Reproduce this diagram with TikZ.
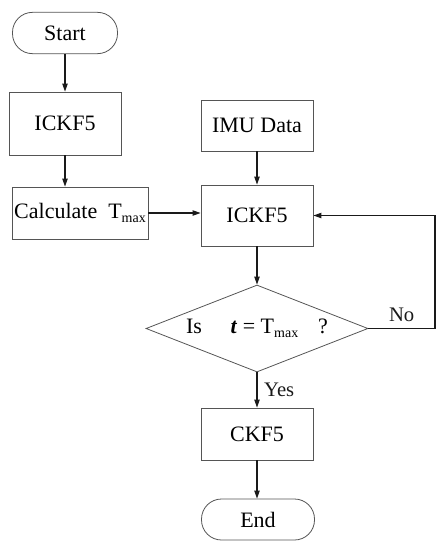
\documentclass[tikz,border=0pt]{standalone}
\usepackage{fontspec}
\setmainfont{Liberation Serif}
\usetikzlibrary{
  arrows.meta,
  shapes,
  shapes.geometric,
  positioning,
  calc
}
\definecolor{fcLine}{HTML}{1A1A1A}
\definecolor{fcEdge}{HTML}{555555}
\newcommand{\fcTmax}{T\raisebox{-0.45ex}{\fontsize{10.5}{11}\selectfont max}}
\tikzset{
  fcnode/.style={
    draw=fcEdge, line width=0.6pt, inner sep=1pt, align=center,
    font=\fontsize{16.5}{19}\selectfont
  },
  fcbox/.style={fcnode, rectangle, minimum width=84pt, minimum height=39pt},
  fcterm/.style={fcnode, rectangle, rounded corners=15pt, minimum height=31pt},
  fcdec/.style={fcnode, diamond, aspect=2.5, inner sep=0pt,
    minimum width=166.5pt, minimum height=65.25pt},
  fcflow/.style={-{Triangle[length=6pt, width=4pt]}, line width=0.8pt, fcLine},
  fctag/.style={font=\fontsize{15.5}{18}\selectfont, inner sep=1pt}
}

\begin{document}
\begin{tikzpicture}[x=0.75pt, y=-0.75pt]
  \useasboundingbox (0,0) rectangle (445,550);
  \node[fcterm, minimum width=78.75pt] (start) at (65,33) {Start};
  \node[fcbox, minimum height=47.25pt] (ickA) at (65,123.5) {ICKF5};
  \node[fcbox, minimum width=102pt] (calc) at (80,213) {Calculate\ \ \fcTmax};
  \node[fcbox, minimum height=38.25pt] (imu) at (257,125.5) {IMU Data};
  \node[fcbox, minimum height=45.75pt] (ickB) at (257,215.5) {ICKF5};
  \node[fcdec] (check) at (257,328.5) {Is\hspace{1.3em}\textbf{\textit{t}} = \fcTmax\hspace{0.9em}?};
  \node[fcbox] (ckf) at (257,434) {CKF5};
  \node[fcterm, minimum width=84.75pt, minimum height=30.75pt] (stop) at (258,519.5) {End};
  \coordinate (back) at (435,328.5);
  % main flow
  \draw[fcflow] (start) -- (ickA);
  \draw[fcflow] (ickA) -- (ickA |- calc.north);
  \draw[fcflow] (calc) -- (calc -| ickB.west);
  \draw[fcflow] (imu) -- (ickB);
  \draw[fcflow] (ickB) -- (check);
  \draw[fcflow] (check) -- node[fctag, right=4pt] {Yes} (ckf);
  \draw[fcflow] (ckf) -- (stop.north -| ckf);
  % loop back
  \draw[fcflow] (check.east) -- node[fctag, above=4pt] {No} (back) |- (ickB.east);
\end{tikzpicture}
\end{document}
